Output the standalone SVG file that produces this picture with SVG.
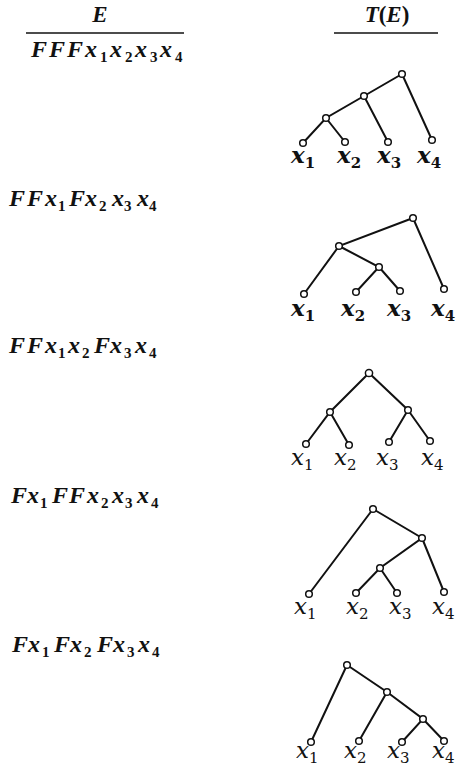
<svg xmlns="http://www.w3.org/2000/svg" width="456" height="770" viewBox="0 0 456 770">
<style>
.ex{font-family:"Liberation Serif",serif;font-weight:bold;font-style:italic;font-size:24px;fill:#111}
.sb{font-size:15px;font-style:normal}
.hd{font-family:"Liberation Serif",serif;font-weight:bold;font-style:italic;font-size:23px;fill:#111}
.lb{font-family:"DejaVu Serif",serif;font-style:italic;font-size:23px;fill:#111}
.lbb{font-weight:bold}
.ls{font-size:15px;font-style:normal}
.rule{stroke:#111;stroke-width:1.6}
.e{stroke:#111;stroke-width:2;fill:none;stroke-linecap:round}
.n{fill:#fff;stroke:#111;stroke-width:1.5}
</style>
<rect width="456" height="770" fill="#fff"/>
<g id="header">
<text class="hd" x="100" y="22" text-anchor="middle">E</text>
<text class="hd" x="387" y="22" text-anchor="middle">T<tspan font-style="normal">(</tspan>E<tspan font-style="normal">)</tspan></text>
<line class="rule" x1="26" y1="33" x2="184" y2="33"/>
<line class="rule" x1="334" y1="33" x2="438" y2="33"/>
</g>
<g id="expressions">
<text id="expr1" class="ex"><tspan x="31" y="57">F</tspan><tspan x="49" y="57">F</tspan><tspan x="67" y="57">F</tspan><tspan x="85" y="57">x</tspan><tspan class="sb" x="100" y="62">1</tspan><tspan x="110" y="57">x</tspan><tspan class="sb" x="125" y="62">2</tspan><tspan x="135" y="57">x</tspan><tspan class="sb" x="150" y="62">3</tspan><tspan x="160" y="57">x</tspan><tspan class="sb" x="175" y="62">4</tspan></text>
<text id="expr2" class="ex"><tspan x="9" y="206">F</tspan><tspan x="27" y="206">F</tspan><tspan x="45" y="206">x</tspan><tspan class="sb" x="58" y="211">1</tspan><tspan x="69" y="206">F</tspan><tspan x="85" y="206">x</tspan><tspan class="sb" x="99" y="211">2</tspan><tspan x="112" y="206">x</tspan><tspan class="sb" x="124" y="211">3</tspan><tspan x="137" y="206">x</tspan><tspan class="sb" x="149" y="211">4</tspan></text>
<text id="expr3" class="ex"><tspan x="9" y="353">F</tspan><tspan x="27" y="353">F</tspan><tspan x="45" y="353">x</tspan><tspan class="sb" x="58" y="358">1</tspan><tspan x="68" y="353">x</tspan><tspan class="sb" x="82" y="358">2</tspan><tspan x="94" y="353">F</tspan><tspan x="110" y="353">x</tspan><tspan class="sb" x="124" y="358">3</tspan><tspan x="135" y="353">x</tspan><tspan class="sb" x="149" y="358">4</tspan></text>
<text id="expr4" class="ex"><tspan x="11" y="503">F</tspan><tspan x="27" y="503">x</tspan><tspan class="sb" x="40" y="508">1</tspan><tspan x="52" y="503">F</tspan><tspan x="69" y="503">F</tspan><tspan x="87" y="503">x</tspan><tspan class="sb" x="101" y="508">2</tspan><tspan x="112" y="503">x</tspan><tspan class="sb" x="125" y="508">3</tspan><tspan x="137" y="503">x</tspan><tspan class="sb" x="151" y="508">4</tspan></text>
<text id="expr5" class="ex"><tspan x="12" y="652">F</tspan><tspan x="28" y="652">x</tspan><tspan class="sb" x="42" y="657">1</tspan><tspan x="54" y="652">F</tspan><tspan x="70" y="652">x</tspan><tspan class="sb" x="84" y="657">2</tspan><tspan x="97" y="652">F</tspan><tspan x="113" y="652">x</tspan><tspan class="sb" x="127" y="657">3</tspan><tspan x="138" y="652">x</tspan><tspan class="sb" x="152" y="657">4</tspan></text>
</g>
<g id="connectors">
<path class="e" d="M402,74 L364,96 L326,118 L303,143 M326,118 L345,142 M364,96 L388,142 M402,74 L432,140"/>
<path class="e" d="M413,218 L339,246 L304,294 M339,246 L379,267 L356,292 M379,267 L400,291 M413,218 L444,289"/>
<path class="e" d="M369,373 L330,412 L306,444 M330,412 L349,445 M369,373 L408,410 L389,442 M408,410 L430,441"/>
<path class="e" d="M373,509 L309,594 M373,509 L422,538 L380,568 L356,593 M380,568 L397,593 M422,538 L444,592"/>
<path class="e" d="M347,665 L311,742 M347,665 L387,692 L359,741 M387,692 L423,719 L402,742 M423,719 L444,741"/>
</g>
<g id="tree1">
<g id="t1-root"><circle class="n" cx="402" cy="74" r="3.3"/></g>
<g id="t1-n2"><circle class="n" cx="364" cy="96" r="3.3"/></g>
<g id="t1-n3"><circle class="n" cx="326" cy="118" r="3.3"/></g>
<g id="t1-x1"><circle class="n" cx="303" cy="143" r="3.3"/><text class="lb lbb" x="291" y="163">x<tspan class="ls" dy="5">1</tspan></text></g>
<g id="t1-x2"><circle class="n" cx="345" cy="142" r="3.3"/><text class="lb lbb" x="337" y="163">x<tspan class="ls" dy="5">2</tspan></text></g>
<g id="t1-x3"><circle class="n" cx="388" cy="142" r="3.3"/><text class="lb lbb" x="377" y="163">x<tspan class="ls" dy="5">3</tspan></text></g>
<g id="t1-x4"><circle class="n" cx="432" cy="140" r="3.3"/><text class="lb lbb" x="417" y="163">x<tspan class="ls" dy="5">4</tspan></text></g>
</g>
<g id="tree2">
<g id="t2-root"><circle class="n" cx="413" cy="218" r="3.3"/></g>
<g id="t2-n2"><circle class="n" cx="339" cy="246" r="3.3"/></g>
<g id="t2-n3"><circle class="n" cx="379" cy="267" r="3.3"/></g>
<g id="t2-x1"><circle class="n" cx="304" cy="294" r="3.3"/><text class="lb lbb" x="291" y="316">x<tspan class="ls" dy="5">1</tspan></text></g>
<g id="t2-x2"><circle class="n" cx="356" cy="292" r="3.3"/><text class="lb lbb" x="341" y="316">x<tspan class="ls" dy="5">2</tspan></text></g>
<g id="t2-x3"><circle class="n" cx="400" cy="291" r="3.3"/><text class="lb lbb" x="387" y="316">x<tspan class="ls" dy="5">3</tspan></text></g>
<g id="t2-x4"><circle class="n" cx="444" cy="289" r="3.3"/><text class="lb lbb" x="431" y="316">x<tspan class="ls" dy="5">4</tspan></text></g>
</g>
<g id="tree3">
<g id="t3-root"><circle class="n" cx="369" cy="373" r="3.6"/></g>
<g id="t3-n2"><circle class="n" cx="330" cy="412" r="3.3"/></g>
<g id="t3-n3"><circle class="n" cx="408" cy="410" r="3.3"/></g>
<g id="t3-x1"><circle class="n" cx="306" cy="444" r="3.3"/><text class="lb" x="291" y="465">x<tspan class="ls" dy="5">1</tspan></text></g>
<g id="t3-x2"><circle class="n" cx="349" cy="445" r="3.3"/><text class="lb" x="334" y="465">x<tspan class="ls" dy="5">2</tspan></text></g>
<g id="t3-x3"><circle class="n" cx="389" cy="442" r="3.3"/><text class="lb" x="376" y="465">x<tspan class="ls" dy="5">3</tspan></text></g>
<g id="t3-x4"><circle class="n" cx="430" cy="441" r="3.3"/><text class="lb" x="421" y="465">x<tspan class="ls" dy="5">4</tspan></text></g>
</g>
<g id="tree4">
<g id="t4-root"><circle class="n" cx="373" cy="509" r="3.3"/></g>
<g id="t4-n2"><circle class="n" cx="422" cy="538" r="3.3"/></g>
<g id="t4-n3"><circle class="n" cx="380" cy="568" r="3.3"/></g>
<g id="t4-x1"><circle class="n" cx="309" cy="594" r="3.3"/><text class="lb" x="294" y="614">x<tspan class="ls" dy="5">1</tspan></text></g>
<g id="t4-x2"><circle class="n" cx="356" cy="593" r="3.3"/><text class="lb" x="346" y="614">x<tspan class="ls" dy="5">2</tspan></text></g>
<g id="t4-x3"><circle class="n" cx="397" cy="593" r="3.3"/><text class="lb" x="389" y="614">x<tspan class="ls" dy="5">3</tspan></text></g>
<g id="t4-x4"><circle class="n" cx="444" cy="592" r="3.3"/><text class="lb" x="432" y="614">x<tspan class="ls" dy="5">4</tspan></text></g>
</g>
<g id="tree5">
<g id="t5-root"><circle class="n" cx="347" cy="665" r="3.3"/></g>
<g id="t5-n2"><circle class="n" cx="387" cy="692" r="3.3"/></g>
<g id="t5-n3"><circle class="n" cx="423" cy="719" r="3.3"/></g>
<g id="t5-x1"><circle class="n" cx="311" cy="742" r="3.3"/><text class="lb" x="296" y="758">x<tspan class="ls" dy="5">1</tspan></text></g>
<g id="t5-x2"><circle class="n" cx="359" cy="741" r="3.3"/><text class="lb" x="344" y="758">x<tspan class="ls" dy="5">2</tspan></text></g>
<g id="t5-x3"><circle class="n" cx="402" cy="742" r="3.3"/><text class="lb" x="387" y="758">x<tspan class="ls" dy="5">3</tspan></text></g>
<g id="t5-x4"><circle class="n" cx="444" cy="741" r="3.3"/><text class="lb" x="432" y="758">x<tspan class="ls" dy="5">4</tspan></text></g>
</g>
</svg>
